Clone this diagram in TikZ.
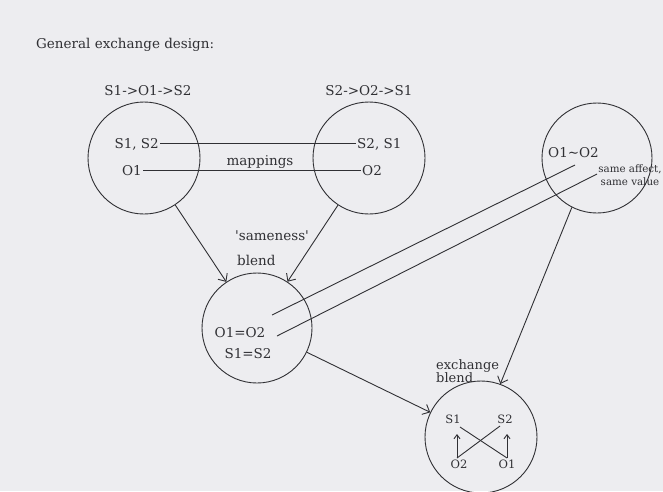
\documentclass[tikz,border=0pt]{standalone}
\usepackage{fontspec}
\setmainfont{DejaVu Serif}
\usetikzlibrary{arrows.meta}
\definecolor{bg}{RGB}{237,237,240}
\definecolor{ink}{RGB}{48,48,52}
\begin{document}
\begin{tikzpicture}[x=1pt,y=-1pt,
  every node/.style={text=ink, font=\fontsize{13.5}{15}\selectfont, inner sep=1pt},
  ring/.style={draw=ink, line width=0.9pt, circle, minimum size=#1, inner sep=0pt},
  ln/.style={draw=ink, line width=0.9pt},
  arr/.style={ln, -{Straight Barb[length=6pt,width=11pt]}},
  sarr/.style={ln, -{Straight Barb[length=4pt,width=6pt]}},
  small/.style={font=\fontsize{10.3}{12.5}\selectfont},
  inner/.style={font=\fontsize{11.5}{13}\selectfont},
  exl/.style={font=\fontsize{13}{14}\selectfont}]
\fill[bg] (0,0) rectangle (663,491);
\useasboundingbox (0,0) rectangle (663,491);

\node[anchor=base west] (title) at (35,48) {General exchange design:};

% circles
\node[ring=112pt] (c1) at (144,158) {};
\node[ring=112pt] (c2) at (369,158) {};
\node[ring=110pt] (c3) at (597,158) {};
\node[ring=110pt] (c4) at (257,328) {};
\node[ring=112pt] (c5) at (481,437) {};

% top labels
\node[anchor=base] (l1) at (148,95) {S1->O1->S2};
\node[anchor=base] (l2) at (369,95) {S2->O2->S1};

% mappings
\node[anchor=base east] (s12) at (160,148) {S1, S2};
\node[anchor=base east] (o1) at (143,175) {O1};
\node[anchor=base west] (s21) at (356,148) {S2, S1};
\node[anchor=base west] (o2) at (361,175) {O2};
\draw[ln] (s12.east) -- (s21.west);
\draw[ln] (o1.east) -- (o2.west);
\node[anchor=base] (map) at (260,165) {mappings};

% right circle
\node[anchor=base west] (o12) at (547,157) {O1\textasciitilde O2};
\node[small, anchor=base] (sa) at (630,172) {same affect,};
\node[small, anchor=base] (sv) at (630,185) {same value};

% sameness blend
\node[anchor=base west] (sm) at (234,240) {\textquotesingle sameness\textquotesingle};
\node[anchor=base west] (bl) at (236,265) {blend};
\node[anchor=base] (eq1) at (240,337) {O1=O2};
\node[anchor=base] (eq2) at (248,358) {S1=S2};

% parallel lines
\coordinate (p1) at (272,315);
\coordinate (p2) at (575,165);
\coordinate (q1) at (277,336);
\coordinate (q2) at (597,174);
\draw[ln] (p1) -- (p2);
\draw[ln] (q1) -- (q2);

% arrows between circles
\draw[arr] (c1) -- (c4);
\draw[arr] (c2) -- (c4);
\draw[arr] (c4) -- (c5);
\draw[arr] (c3.243) -- (c5.70);

% exchange blend
\node[exl, anchor=base west] (ex) at (435,369) {exchange};
\node[exl, anchor=base west] (eb) at (435,382) {blend};
\node[inner, anchor=base] (S1) at (453,423) {S1};
\node[inner, anchor=base] (S2) at (505,423) {S2};
\node[inner, anchor=base] (O2) at (459,468) {O2};
\node[inner, anchor=base] (O1) at (507,468) {O1};
\coordinate (b1) at (457,458);
\coordinate (b2) at (507,458);
\coordinate (t1) at (457,434);
\coordinate (t2) at (507,434);
\coordinate (k1) at (460,427);
\coordinate (k2) at (500,426);
\draw[sarr] (b1) -- (t1);
\draw[sarr] (b2) -- (t2);
\draw[ln] (k1) -- (b2);
\draw[ln] (b1) -- (k2);
\end{tikzpicture}
\end{document}
